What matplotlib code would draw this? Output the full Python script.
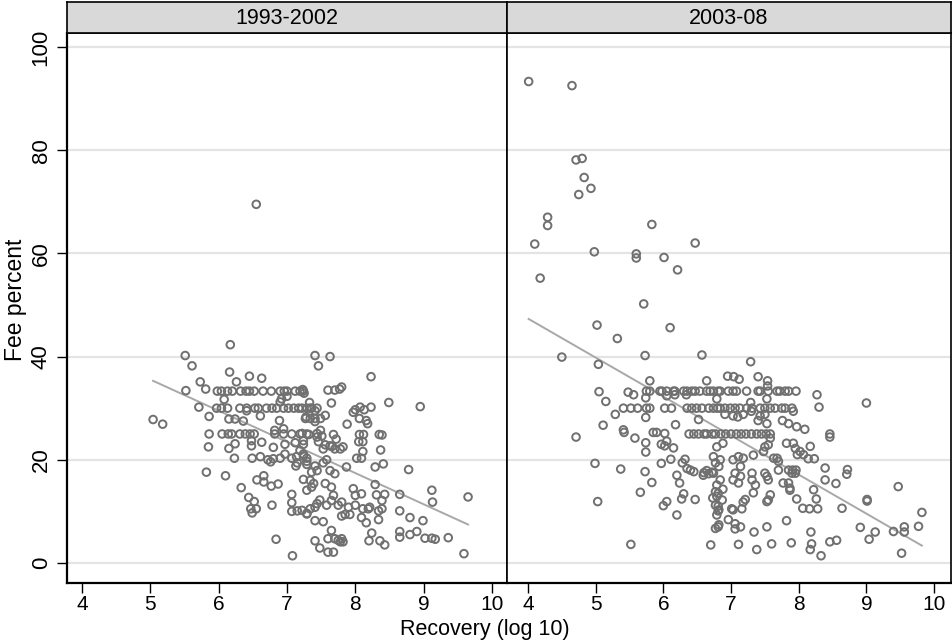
import numpy as np
import matplotlib.pyplot as plt

plt.rcParams['font.family'] = ['Liberation Sans', 'DejaVu Sans']

panels = ['1993-2002', '2003-08']

# (recovery log10, fee percent)
early_pts = [
    (6.55, 69.5), (6.17, 42.3), (5.51, 40.2), (5.61, 38.2), (6.16, 37.0), (6.45, 36.2), (6.63, 35.8),
    (5.73, 35.1), (6.26, 35.1), (5.52, 33.4), (5.81, 33.7),
    (5.98, 33.3), (6.04, 33.3), (6.13, 33.3), (6.20, 33.3), (6.32, 33.3), (6.40, 33.3), (6.45, 33.3),
    (6.52, 33.3), (6.65, 33.3), (6.77, 33.3), (6.90, 33.3), (6.96, 33.3), (7.00, 33.3), (7.12, 33.3),
    (7.19, 33.3), (7.24, 33.3),
    (6.08, 31.7), (7.00, 32.3), (6.92, 31.8), (6.90, 31.2), (5.71, 30.2),
    (5.97, 30.0), (6.04, 30.0), (6.13, 30.0), (6.31, 30.0), (6.41, 30.0), (6.53, 30.0), (6.58, 30.0),
    (6.70, 30.0), (6.78, 30.0), (6.85, 30.0), (6.95, 30.0), (7.02, 30.0), (7.10, 30.0), (7.17, 30.0),
    (7.29, 30.0), (7.34, 30.0),
    (6.41, 29.5), (6.61, 28.5), (5.86, 28.4), (5.04, 27.8), (5.18, 26.9), (6.15, 27.9), (6.24, 27.9),
    (6.36, 27.5), (6.89, 27.6), (7.28, 28.3),
    (5.86, 25.0), (6.05, 25.0), (6.14, 25.0), (6.19, 25.0), (6.31, 25.0), (6.39, 25.0), (6.46, 25.0),
    (6.52, 25.0), (6.82, 25.0), (6.95, 25.0), (7.07, 25.0), (7.19, 25.0), (7.29, 25.0),
    (6.82, 25.7), (6.95, 26.0),
    (5.85, 22.5), (6.15, 22.2), (6.24, 23.1), (6.48, 22.7), (6.48, 23.7), (6.63, 23.4), (6.80, 22.4),
    (6.97, 23.0), (7.12, 23.3), (7.24, 23.7),
    (6.23, 20.3), (6.49, 20.3), (6.61, 20.6), (6.72, 20.0), (6.76, 19.6), (6.80, 20.2), (6.90, 20.3),
    (6.97, 21.1), (7.07, 20.3), (7.14, 20.6), (7.19, 21.8), (7.24, 21.1), (7.29, 20.3),
    (5.82, 17.6), (6.10, 16.9), (6.56, 16.1), (6.66, 16.9), (6.66, 15.7), (6.33, 14.6), (6.77, 14.9),
    (6.87, 15.3), (7.13, 18.8), (7.15, 19.4), (7.24, 16.2), (7.29, 14.1), (7.07, 13.3), (7.07, 11.7),
    (6.44, 12.7), (6.52, 11.9), (6.47, 10.5), (6.55, 10.5), (6.49, 9.7), (6.78, 11.2), (7.07, 10.0),
    (7.15, 10.1), (7.22, 10.2), (7.29, 9.6), (6.84, 4.6), (7.08, 1.4),
    (7.41, 40.2), (7.63, 40.0), (7.46, 38.2), (8.23, 36.1), (7.60, 33.5), (7.70, 33.5), (7.77, 33.7),
    (7.80, 34.1), (7.23, 33.6), (7.25, 32.9), (7.65, 31.0), (8.49, 31.1), (8.95, 30.3),
    (7.33, 31.1), (7.36, 30.0), (7.44, 30.0), (7.41, 29.5), (7.22, 30.0),
    (8.00, 29.7), (8.07, 30.2), (8.13, 29.7), (8.23, 30.2), (7.97, 29.2), (8.06, 28.0), (8.16, 27.6),
    (8.18, 27.0), (7.27, 28.0), (7.34, 28.0), (7.41, 28.0), (7.49, 28.0), (7.56, 28.6), (7.41, 27.4),
    (7.88, 26.9), (7.22, 25.1), (7.32, 24.9), (7.44, 25.1), (7.49, 25.7), (7.51, 24.6), (7.68, 24.9),
    (7.44, 24.4), (8.06, 24.9), (8.12, 24.9), (8.35, 24.9), (8.39, 24.8),
    (7.72, 24.0), (7.46, 23.5), (7.56, 22.9), (7.66, 22.6), (8.05, 23.5),
    (7.24, 23.0), (7.53, 22.1), (7.63, 22.7), (7.70, 22.1), (7.78, 22.1), (7.82, 22.5), (8.11, 23.5),
    (8.37, 21.9), (8.11, 21.6), (8.02, 20.3), (8.09, 20.3),
    (7.24, 20.7), (7.29, 19.7), (7.29, 19.1), (7.41, 18.8), (7.53, 19.4), (7.58, 20.0), (7.36, 17.6),
    (7.44, 17.9), (7.63, 17.9), (7.70, 17.3), (7.87, 18.6), (8.29, 18.6), (8.41, 19.2), (8.78, 18.1),
    (7.34, 16.0), (7.39, 15.4), (7.36, 14.7), (7.56, 15.4), (7.65, 14.7),
    (7.97, 14.4), (8.09, 13.4), (8.00, 13.1), (8.29, 15.2), (8.31, 13.2), (8.43, 13.3), (8.39, 12.1),
    (8.65, 13.3), (9.12, 14.1), (9.13, 11.8), (9.65, 12.8),
    (7.68, 13.1), (7.48, 12.2), (7.44, 11.5), (7.41, 10.8), (7.34, 10.5), (7.29, 9.5), (7.58, 11.2),
    (7.65, 12.1), (7.75, 11.2), (7.80, 11.8), (7.90, 10.8), (8.00, 11.2), (8.11, 10.5), (8.19, 10.5),
    (8.21, 10.8), (8.34, 10.1), (8.39, 10.5), (8.65, 10.1), (8.80, 8.8), (8.99, 8.2),
    (7.41, 8.2), (7.53, 8.0), (7.80, 9.1), (7.85, 9.4), (7.92, 9.4), (8.09, 8.8), (8.16, 7.8), (8.34, 8.4),
    (7.65, 6.3), (7.60, 4.7), (7.70, 4.7), (7.75, 4.4), (7.80, 4.7), (7.82, 4.1), (7.78, 4.1), (7.41, 4.3),
    (7.48, 2.9), (7.60, 2.1), (7.68, 2.1), (8.24, 5.8), (8.20, 4.3), (8.36, 4.3), (8.43, 3.5), (8.65, 6.1),
    (8.65, 5.0), (8.80, 5.5), (8.90, 6.1), (9.02, 4.8), (9.12, 4.8), (9.17, 4.6), (9.36, 4.9), (9.59, 1.8),
]

late_pts = [
    (4.01, 93.3), (4.65, 92.5), (4.71, 78.1), (4.80, 78.4), (4.83, 74.7), (4.93, 72.6), (4.75, 71.4),
    (4.29, 67.0), (4.29, 65.4), (5.83, 65.6), (4.10, 61.8), (6.47, 62.0), (4.98, 60.3), (5.60, 59.9),
    (5.60, 59.1), (6.01, 59.2), (6.21, 56.8), (4.18, 55.2), (5.71, 50.2), (5.02, 46.1), (6.10, 45.6),
    (5.32, 43.5), (4.50, 39.9), (5.73, 40.2), (6.57, 40.3), (5.04, 38.5), (5.80, 35.3), (6.64, 35.3),
    (5.05, 33.2), (5.48, 33.1), (5.56, 32.6),
    (5.75, 33.3), (5.80, 33.3), (5.95, 33.3), (5.98, 33.3), (6.05, 33.3), (6.15, 33.3), (6.17, 33.3),
    (6.30, 33.3), (6.35, 33.3), (6.42, 33.3), (6.47, 33.3), (6.54, 33.3), (6.64, 33.3), (6.69, 33.3),
    (6.81, 33.3), (6.74, 33.3), (6.84, 33.3), (6.96, 33.3), (7.03, 33.3), (7.08, 33.3), (7.23, 33.3),
    (7.40, 33.3), (7.43, 33.3), (7.55, 33.3), (7.68, 33.3), (7.72, 33.3), (7.80, 33.3), (7.85, 33.3),
    (7.96, 33.3),
    (5.74, 32.0), (6.05, 32.4), (6.17, 32.6), (6.34, 32.6), (5.15, 31.3),
    (5.41, 30.0), (5.52, 30.0), (5.62, 30.0), (5.75, 30.0), (5.80, 30.0), (6.02, 30.0), (6.12, 30.0),
    (6.35, 30.0), (6.42, 30.0), (6.49, 30.0), (6.57, 30.0), (6.67, 30.0), (6.74, 30.0), (6.80, 30.0),
    (6.84, 30.0), (6.91, 30.0), (6.99, 30.0), (7.06, 30.0), (7.13, 30.0), (7.23, 30.0), (7.31, 30.0),
    (7.43, 30.0), (7.50, 30.0), (7.58, 30.0), (7.65, 30.0), (7.75, 30.0), (7.80, 30.0), (7.90, 30.0),
    (5.74, 28.2), (5.29, 28.8), (6.52, 27.8), (5.11, 26.7), (5.41, 25.8), (5.42, 25.3), (5.85, 25.3),
    (5.90, 25.3), (6.02, 25.1), (6.18, 26.8),
    (6.38, 25.0), (6.45, 25.0), (6.52, 25.0), (6.60, 25.0), (6.64, 25.0), (6.72, 25.0), (6.77, 25.0),
    (6.85, 25.0), (6.92, 25.0), (7.00, 25.0), (7.08, 25.0), (7.15, 25.0), (7.22, 25.0), (7.30, 25.0),
    (7.38, 25.0), (7.45, 25.0), (7.52, 25.0), (7.58, 25.0),
    (4.71, 24.4), (5.58, 24.2), (5.74, 23.3), (5.74, 21.5), (5.97, 23.0), (6.05, 23.6), (6.02, 22.7),
    (6.15, 22.3), (4.99, 19.3), (5.37, 18.2), (5.73, 17.7), (5.97, 19.3), (6.11, 20.1), (6.28, 19.4),
    (6.32, 20.1), (5.83, 15.6), (6.20, 17.0), (6.24, 15.5), (6.35, 18.3), (6.40, 18.0), (6.45, 17.7),
    (6.60, 17.5), (6.64, 17.9), (6.67, 17.3), (6.72, 17.6), (6.59, 17.0), (5.66, 13.7), (6.30, 13.4),
    (6.27, 12.4), (6.47, 12.3), (5.03, 11.9), (6.05, 11.9), (6.00, 11.1), (6.20, 9.3), (6.73, 12.6),
    (6.81, 13.5), (6.81, 11.0), (6.81, 10.1), (6.81, 7.0), (6.70, 3.5), (5.52, 3.6),
    (7.29, 39.0), (6.95, 36.2), (7.04, 36.1), (7.12, 35.6), (7.40, 36.1), (7.54, 35.3), (7.54, 34.3),
    (8.27, 32.6), (9.00, 31.0), (6.79, 31.8), (7.29, 31.1), (7.53, 31.8), (8.30, 30.2), (7.92, 29.4),
    (7.30, 29.4), (7.50, 28.8), (7.43, 28.5), (6.91, 28.8), (7.03, 28.5), (7.10, 28.3), (7.18, 28.8),
    (7.40, 27.6), (7.53, 27.0), (7.76, 27.6), (7.85, 27.0), (7.97, 26.4), (8.09, 25.9), (8.46, 25.0),
    (8.46, 24.4), (7.82, 23.2), (7.92, 23.2), (7.95, 22.2), (8.02, 21.6), (7.98, 21.0), (8.07, 21.0),
    (8.17, 22.6), (8.14, 20.2), (8.23, 20.2), (8.39, 18.4), (8.39, 16.1), (8.55, 15.4), (8.72, 18.1),
    (8.71, 17.2), (9.47, 14.8), (8.22, 14.2), (8.26, 12.4), (7.97, 12.4), (8.06, 10.6), (8.16, 10.5),
    (8.28, 10.5), (8.64, 10.6), (9.01, 12.3), (9.01, 12.0), (9.82, 9.8), (7.82, 8.2), (7.53, 7.0),
    (7.34, 6.0), (8.18, 6.0), (8.91, 6.9), (9.13, 6.0), (9.04, 4.6), (9.40, 6.1), (9.56, 7.0),
    (9.56, 6.0), (9.77, 7.1), (7.11, 3.6), (7.38, 2.6), (7.60, 3.7), (7.89, 3.9), (8.19, 3.7),
    (8.17, 2.6), (8.33, 1.4), (8.46, 4.1), (8.56, 4.4), (9.52, 1.9),
    (6.79, 22.5), (6.88, 23.2), (6.74, 20.6), (6.84, 20.0), (6.77, 19.4), (6.82, 18.7), (6.74, 17.4),
    (6.84, 16.1), (6.79, 15.1), (6.88, 14.3), (6.77, 13.8), (6.79, 12.9), (6.87, 12.2), (6.77, 11.2),
    (6.82, 10.3), (6.79, 9.3), (6.82, 7.4), (6.77, 6.7),
    (7.03, 20.0), (7.11, 20.6), (7.18, 20.3), (7.33, 20.9), (7.14, 18.7), (7.06, 17.4), (7.14, 16.8),
    (7.03, 16.1), (7.11, 15.5), (7.31, 17.4), (7.31, 16.1), (7.36, 15.1), (7.33, 13.6), (7.21, 12.3),
    (7.18, 11.8), (7.16, 10.5), (7.03, 10.3), (7.01, 10.5), (6.96, 8.4), (7.06, 7.6), (7.06, 6.6),
    (7.14, 7.0),
    (7.50, 22.5), (7.55, 22.9), (7.48, 21.6), (7.58, 24.2), (7.63, 20.3), (7.68, 20.3), (7.70, 19.7),
    (7.50, 17.4), (7.53, 16.8), (7.55, 16.1), (7.70, 18.0), (7.77, 15.5), (7.85, 15.5), (7.87, 14.5),
    (7.87, 14.1), (7.58, 13.2), (7.53, 11.9), (7.55, 12.2), (7.85, 18.0), (7.91, 18.0), (7.96, 18.0),
    (7.90, 17.4), (7.95, 17.4),
]

# fitted lines: intercept, slope, x range
fit_early = (65.74, -6.04, 5.04, 9.65)
fit_late = (77.6, -7.56, 4.01, 9.82)

xticks = [4, 5, 6, 7, 8, 9, 10]
yticks = [0, 20, 40, 60, 80, 100]

fig = plt.figure(figsize=(9.53, 6.42), dpi=100)
W, H = 953, 642

def px_axes(x0, y0, x1, y1):
    return fig.add_axes([x0 / W, 1 - y1 / H, (x1 - x0) / W, (y1 - y0) / H])

ax1 = px_axes(67, 33, 507, 583)
ax2 = px_axes(507, 33, 951, 583)
s1 = px_axes(67, 2, 507, 33)
s2 = px_axes(507, 2, 951, 33)

mk = '#707070'
for ax, pts, fit, xl in [(ax1, early_pts, fit_early, (3.78, 10.22)),
                         (ax2, late_pts, fit_late, (3.69, 10.25))]:
    xs, ys = zip(*pts)
    for g in yticks:
        ax.axhline(g, color='#e4e4e4', lw=1.6, zorder=0)
    ax.scatter(xs, ys, s=30, facecolors='none', edgecolors=mk, linewidths=1.4, zorder=3)
    b, m, xa, xb = fit
    fx = np.array([xa, xb])
    ax.plot(fx, b + m * fx, color='#a8a8a8', lw=1.4, zorder=2)
    ax.set_xlim(*xl)
    ax.set_ylim(-3.88, 102.7)
    ax.set_xticks(xticks)
    ax.tick_params(axis='x', length=7, width=1, labelsize=15, pad=2, color='black')
    for sp in ax.spines.values():
        sp.set_linewidth(1.2)
        sp.set_color('black')
    ax.spines['bottom'].set_linewidth(1.6)

ax1.set_yticks(yticks)
ax1.set_yticklabels([str(t) for t in yticks], rotation=90, va='center')
ax1.tick_params(axis='y', length=7, width=1, labelsize=16, pad=4)
ax1.spines['left'].set_linewidth(1.6)
ax2.set_yticks([])
fig.text(16 / W, 1 - 300 / H, 'Fee percent', rotation=90, ha='center', va='center', fontsize=16.5)
fig.text(485 / W, 1 - 629 / H, 'Recovery (log 10)', ha='center', va='center', fontsize=15.5)

for s, name in zip([s1, s2], panels):
    s.set_facecolor('#d9d9d9')
    s.set_xticks([])
    s.set_yticks([])
    for sp in s.spines.values():
        sp.set_linewidth(1.2)
        sp.set_color('black')
    s.text(0.5, 0.47, name, ha='center', va='center', fontsize=15.5, transform=s.transAxes)

fig.savefig('out.png', dpi=100)
